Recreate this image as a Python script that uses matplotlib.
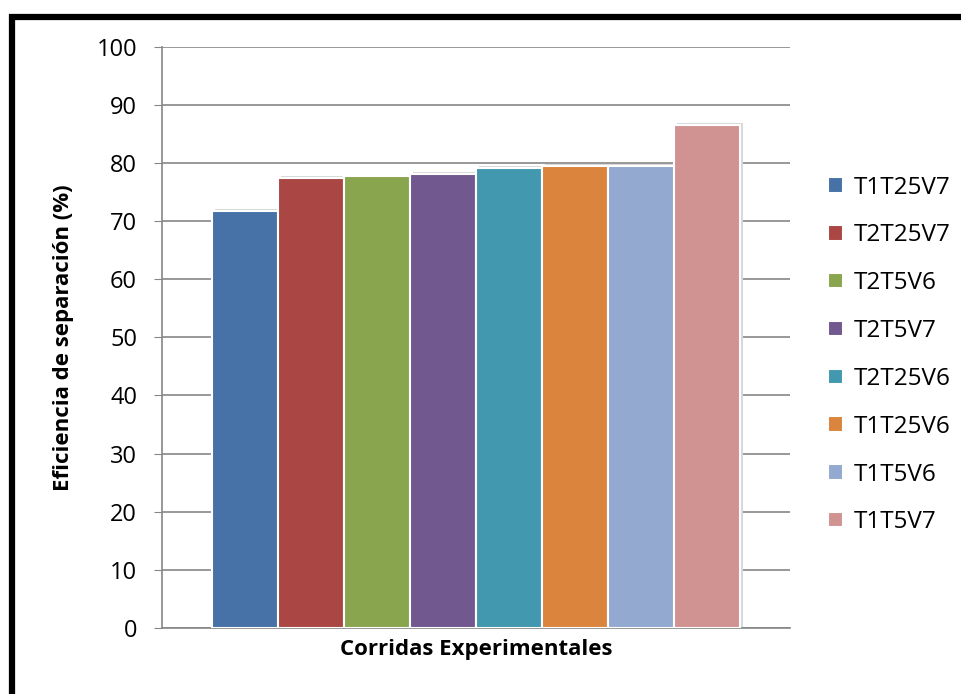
import numpy as np
import matplotlib.pyplot as plt
from matplotlib.patches import Rectangle

plt.rcParams['font.family'] = ['Open Sans', 'DejaVu Sans']

corridas = ['T1T25V7', 'T2T25V7', 'T2T5V6', 'T2T5V7',
            'T2T25V6', 'T1T25V6', 'T1T5V6', 'T1T5V7']
eficiencia = [71.7, 77.4, 77.7, 78.1, 79.2, 79.5, 79.5, 86.6]
colores = ['#4672A8', '#AA4644', '#89A54E', '#71588F',
           '#4198AF', '#DB843D', '#93A9CF', '#D19392']
yticks = np.arange(0, 101, 10)

fig = plt.figure(figsize=(9.62, 6.94), dpi=100)
ax = fig.add_axes([0.1684, 0.0951, 0.6528, 0.8376])

ancho = 0.1051
inicio = 0.0796
for i, (nombre, val, c) in enumerate(zip(corridas, eficiencia, colores)):
    x = inicio + i * ancho
    # sombra leve
    ax.bar(x + 0.004, val + 0.3, width=ancho, align='edge', color='#d8d8d8',
           edgecolor='none', zorder=2)
    ax.bar(x, val, width=ancho, align='edge', color=c, edgecolor='white',
           linewidth=1.5, label=nombre, zorder=3)

ax.set_xlim(0, 1)
ax.set_ylim(0, 100)
ax.set_yticks(yticks)
ax.set_xticks([])
ax.tick_params(axis='y', direction='out', length=6, color='#868686',
               labelsize=17, pad=12)
ax.yaxis.grid(True, color='#868686', linewidth=1.2, zorder=0)
ax.set_axisbelow(True)
for s in ['top', 'right']:
    ax.spines[s].set_visible(False)
for s in ['left', 'bottom']:
    ax.spines[s].set_color('#868686')
    ax.spines[s].set_linewidth(1.2)

ax.set_ylabel('Eficiencia de separación (%)', fontsize=16, fontweight='bold',
              labelpad=16)
ax.set_xlabel('Corridas Experimentales', fontsize=16, fontweight='bold',
              labelpad=8)

leg = ax.legend(loc='upper left', bbox_to_anchor=(1.045, 0.795), frameon=False,
                fontsize=17.5, handlelength=0.6, handleheight=0.6,
                handletextpad=0.45, labelspacing=0.98, borderaxespad=0)

# marco negro alrededor del grafico
fig.patches.append(Rectangle((11.5 / 962, -0.05), 1.1, 1 - 16.5 / 694 + 0.05,
                             transform=fig.transFigure, fill=False,
                             edgecolor='black', linewidth=4.5))

fig.savefig('out.png', dpi=100)
